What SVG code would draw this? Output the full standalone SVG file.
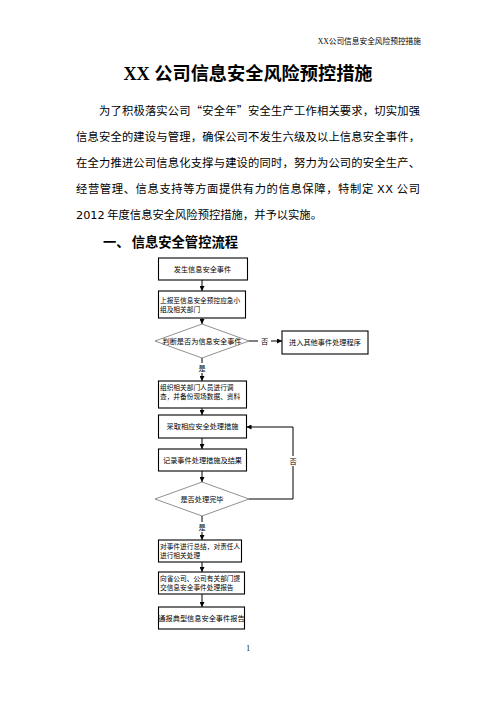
<svg xmlns="http://www.w3.org/2000/svg" width="496" height="702" viewBox="0 0 496 702">
<defs>
<style>
.cjk{font-family:"Noto Sans CJK SC",sans-serif;fill:#000}
.lat{font-family:"DejaVu Sans","Noto Sans CJK SC",sans-serif}
.ser{font-family:"Liberation Serif","Noto Sans CJK SC",serif}
.body{font-size:11.3px}
.fc{font-family:"Noto Sans CJK SC",sans-serif;font-size:7.2px;fill:#000}
.fs{font-family:"Noto Sans CJK SC",sans-serif;font-size:6.7px;fill:#000}
.mid{text-anchor:middle}
.box{fill:#fff;stroke:#000;stroke-width:1.1}
.dia{fill:#fff;stroke:#444;stroke-width:0.6}
.ln{fill:none;stroke:#000;stroke-width:1}
</style>
<marker id="ah" viewBox="0 0 8 8" refX="8" refY="4" markerWidth="5" markerHeight="5" orient="auto" markerUnits="userSpaceOnUse"><path d="M0,0 L8,4 L0,8 z" fill="#000"/></marker>
</defs>
<rect width="496" height="702" fill="#fff"/>

<g id="header">
<text x="421" y="44" text-anchor="end" style="font-size:7.7px"><tspan class="ser">XX</tspan><tspan class="cjk">公司信息安全风险预控措施</tspan></text>
</g>

<g id="title">
<text x="248" y="79.5" class="mid" style="font-size:18.2px;font-weight:bold"><tspan class="ser">XX </tspan><tspan class="cjk">公司信息安全风险预控措施</tspan></text>
</g>

<g id="paragraph" class="cjk body">
<text x="99" y="114.5" textLength="321" lengthAdjust="spacing">为了积极落实公司“安全年”安全生产工作相关要求，切实加强</text>
<text x="76" y="140.5" textLength="344" lengthAdjust="spacing">信息安全的建设与管理，确保公司不发生六级及以上信息安全事件，</text>
<text x="76" y="166.5" textLength="344" lengthAdjust="spacing">在全力推进公司信息化支撑与建设的同时，努力为公司的安全生产、</text>
<text x="76" y="192.5" textLength="344" lengthAdjust="spacing">经营管理、信息支持等方面提供有力的信息保障，特制定 <tspan class="lat">XX</tspan> 公司</text>
<text x="76" y="218.5"><tspan class="lat">2012</tspan> 年度信息安全风险预控措施，并予以实施。</text>
</g>

<g id="heading" class="cjk" style="font-size:13.3px;font-weight:bold">
<text x="103" y="247">一、</text>
<text x="131.7" y="247">信息安全管控流程</text>
</g>

<g id="connectors">
<line class="ln" x1="202" y1="280" x2="202" y2="291" marker-end="url(#ah)"/>
<line class="ln" x1="202" y1="318" x2="202" y2="324" marker-end="url(#ah)"/>
<line class="ln" x1="202" y1="358" x2="202" y2="381" marker-end="url(#ah)"/>
<line class="ln" x1="249" y1="341" x2="282" y2="341" marker-end="url(#ah)"/>
<line class="ln" x1="202" y1="408" x2="202" y2="415" marker-end="url(#ah)"/>
<line class="ln" x1="202" y1="438" x2="202" y2="449" marker-end="url(#ah)"/>
<line class="ln" x1="202" y1="471" x2="202" y2="482" marker-end="url(#ah)"/>
<polyline class="ln" points="249,499 293,499 293,427 246.5,427" marker-end="url(#ah)"/>
<line class="ln" x1="202" y1="516" x2="202" y2="540" marker-end="url(#ah)"/>
<line class="ln" x1="202" y1="562" x2="202" y2="572" marker-end="url(#ah)"/>
<line class="ln" x1="202" y1="594" x2="202" y2="607" marker-end="url(#ah)"/>
<rect x="258" y="336" width="13" height="10" fill="#fff"/>
<text x="264.5" y="343.6" class="fc mid">否</text>
<rect x="197" y="363" width="10" height="10" fill="#fff"/>
<text x="202" y="370.6" class="fc mid">是</text>
<rect x="288" y="456" width="10" height="10" fill="#fff"/>
<text x="293" y="463.6" class="fc mid">否</text>
<rect x="197" y="522" width="10" height="10" fill="#fff"/>
<text x="202" y="529.6" class="fc mid">是</text>
</g>

<g id="n1"><rect class="box" x="158.5" y="258" width="89" height="22"/><text x="202.5" y="271.6" class="fc mid">发生信息安全事件</text></g>
<g id="n2"><rect class="box" x="158.5" y="291" width="87" height="27"/><text x="160" y="302.5" class="fs">上报至信息安全预控应急小</text><text x="160" y="311.5" class="fs">组及相关部门</text></g>
<g id="n3"><polygon class="dia" points="202,324 249,341 202,358 155,341"/><text x="202" y="343.6" class="fc mid">判断是否为信息安全事件</text></g>
<g id="n4"><rect class="box" x="282" y="331" width="86" height="23"/><text x="325" y="345" class="fc mid">进入其他事件处理程序</text></g>
<g id="n5"><rect class="box" x="158.5" y="381" width="88" height="27"/><text x="160" y="390" class="fs">组织相关部门人员进行调</text><text x="160" y="399" class="fs">查，并备份现场数据、资料</text></g>
<g id="n6"><rect class="box" x="158.5" y="415" width="88" height="23"/><text x="202.5" y="429" class="fc mid">采取相应安全处理措施</text></g>
<g id="n7"><rect class="box" x="158.5" y="449" width="88" height="22"/><text x="202.5" y="462.6" class="fc mid">记录事件处理措施及结果</text></g>
<g id="n8"><polygon class="dia" points="202,482 249,499 202,516 155,499"/><text x="202" y="501.6" class="fc mid">是否处理完毕</text></g>
<g id="n9"><rect class="box" x="158.5" y="540" width="83" height="22"/><text x="160" y="548.5" class="fs">对事件进行总结，对责任人</text><text x="160" y="557.5" class="fs">进行相关处理</text></g>
<g id="n10"><rect class="box" x="158.5" y="572" width="86" height="22"/><text x="160" y="581" class="fs">向省公司、公司有关部门提</text><text x="160" y="590" class="fs">交信息安全事件处理报告</text></g>
<g id="n11"><rect class="box" x="158.5" y="607" width="86" height="22"/><text x="201.5" y="620.6" class="fc mid">通报典型信息安全事件报告</text></g>

<g id="footer">
<text x="248" y="651" class="ser mid" style="font-size:7.5px">1</text>
</g>
</svg>
